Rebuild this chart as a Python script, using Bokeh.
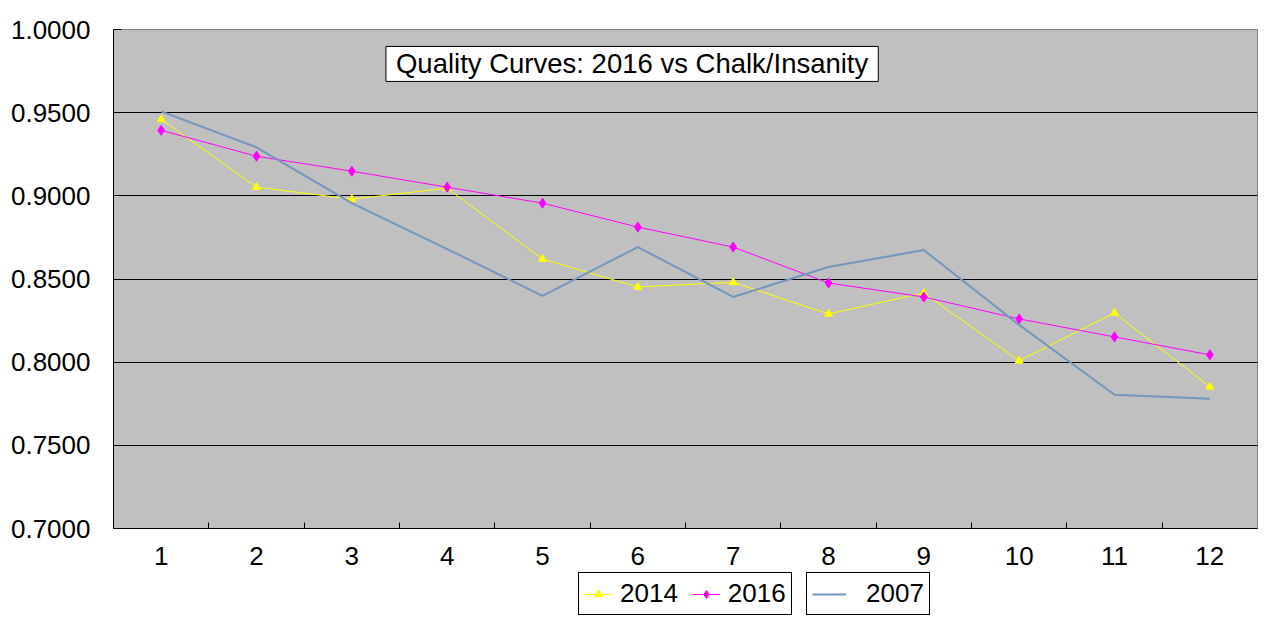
from bokeh.plotting import figure
from bokeh.layouts import column
from bokeh.models import FixedTicker, Legend, LegendItem, Label, CustomJSTickFormatter
from bokeh.embed import file_html
from bokeh.resources import INLINE

games = [1, 2, 3, 4, 5, 6, 7, 8, 9, 10, 11, 12]
q2014 = [0.9460, 0.9052, 0.8980, 0.9046, 0.8620, 0.8452, 0.8480, 0.8290, 0.8416, 0.8008, 0.8296, 0.7852]
q2016 = [0.9394, 0.9238, 0.9148, 0.9052, 0.8956, 0.8812, 0.8692, 0.8476, 0.8392, 0.8260, 0.8152, 0.8044]
q2007 = [0.9508, 0.9292, 0.8956, 0.8680, 0.8398, 0.8692, 0.8392, 0.8572, 0.8674, 0.8224, 0.7804, 0.7780]
y_ticks = [0.70, 0.75, 0.80, 0.85, 0.90, 0.95, 1.00]

FONT = "Liberation Sans"
C14, C16, C07 = "#FFFF00", "#FF00FF", "#7396BD"

p = figure(frame_width=1144, frame_height=499, x_range=(0.5, 12.5), y_range=(0.70, 1.00),
           output_backend="svg", toolbar_location=None,
           min_border_left=113, min_border_top=29, min_border_right=8, min_border_bottom=42)
p.background_fill_color = "#C0C0C0"
p.border_fill_color = "white"
p.outline_line_color = "#808080"

# axes
p.xaxis.ticker = FixedTicker(ticks=games, minor_ticks=[g + 0.5 for g in games[:-1]])
p.xaxis.major_tick_line_color = None
p.xaxis.minor_tick_in = 6
p.xaxis.minor_tick_out = 0
p.xaxis.major_label_standoff = 12
p.yaxis.ticker = FixedTicker(ticks=y_ticks)
p.yaxis.formatter = CustomJSTickFormatter(code="return tick.toFixed(4);")
p.yaxis.major_tick_in = 8
p.yaxis.major_tick_out = 0
p.yaxis.minor_tick_line_color = None
p.yaxis.major_label_standoff = 23
for ax in (p.xaxis, p.yaxis):
    ax.axis_line_color = "black"
    ax.major_label_text_font = FONT
    ax.major_label_text_font_size = "26px"
    ax.major_label_text_color = "black"
p.xgrid.grid_line_color = None
p.ygrid.ticker = FixedTicker(ticks=y_ticks[1:-1])
p.ygrid.grid_line_color = "black"

p.line(games, q2014, line_color=C14, line_width=1)
p.scatter(games, q2014, marker="triangle", size=8, color=C14)
p.line(games, q2016, line_color=C16, line_width=1)
p.scatter(games, q2016, marker="diamond", size=10, color=C16)
p.line(games, q2007, line_color=C07, line_width=2)

p.add_layout(Label(x=5.94, y=0.9793, text="Quality Curves: 2016 vs Chalk/Insanity",
                   text_align="center", text_baseline="middle", text_font=FONT,
                   text_font_size="27.5px", text_color="black",
                   background_fill_color="white", border_line_color="black",
                   padding=(10, 2)))

# legend strip below the chart (its series sit outside the strip's ranges)
lg = figure(width=1265, height=50, x_range=(20, 21), y_range=(20, 21),
            output_backend="svg", toolbar_location=None, min_border=0)
lg.axis.visible = False
lg.grid.grid_line_color = None
lg.outline_line_color = None
l14 = lg.line(games, q2014, line_color=C14, line_width=1)
s14 = lg.scatter(games, q2014, marker="triangle", size=8, color=C14)
l16 = lg.line(games, q2016, line_color=C16, line_width=1)
s16 = lg.scatter(games, q2016, marker="diamond", size=10, color=C16)
l07 = lg.line(games, q2007, line_color=C07, line_width=2)

leg1 = Legend(items=[LegendItem(label="2014", renderers=[l14, s14]),
                     LegendItem(label="2016", renderers=[l16, s16])],
              orientation="horizontal", location=(465, 5))
leg2 = Legend(items=[LegendItem(label="2007", renderers=[l07])], location=(693, 5))
leg1.glyph_width = 28
leg1.label_standoff = 8
leg1.spacing = 14
leg2.glyph_width = 34
leg2.label_standoff = 20
for L in (leg1, leg2):
    L.label_text_font = FONT
    L.label_text_font_size = "26px"
    L.label_text_color = "black"
    L.border_line_color = "black"
    L.border_line_alpha = 1
    L.background_fill_alpha = 1
    L.padding = 5
    L.margin = 0
    L.glyph_height = 20
    lg.add_layout(L)

open("out.html", "w").write(file_html(column(p, lg, spacing=0), INLINE))
